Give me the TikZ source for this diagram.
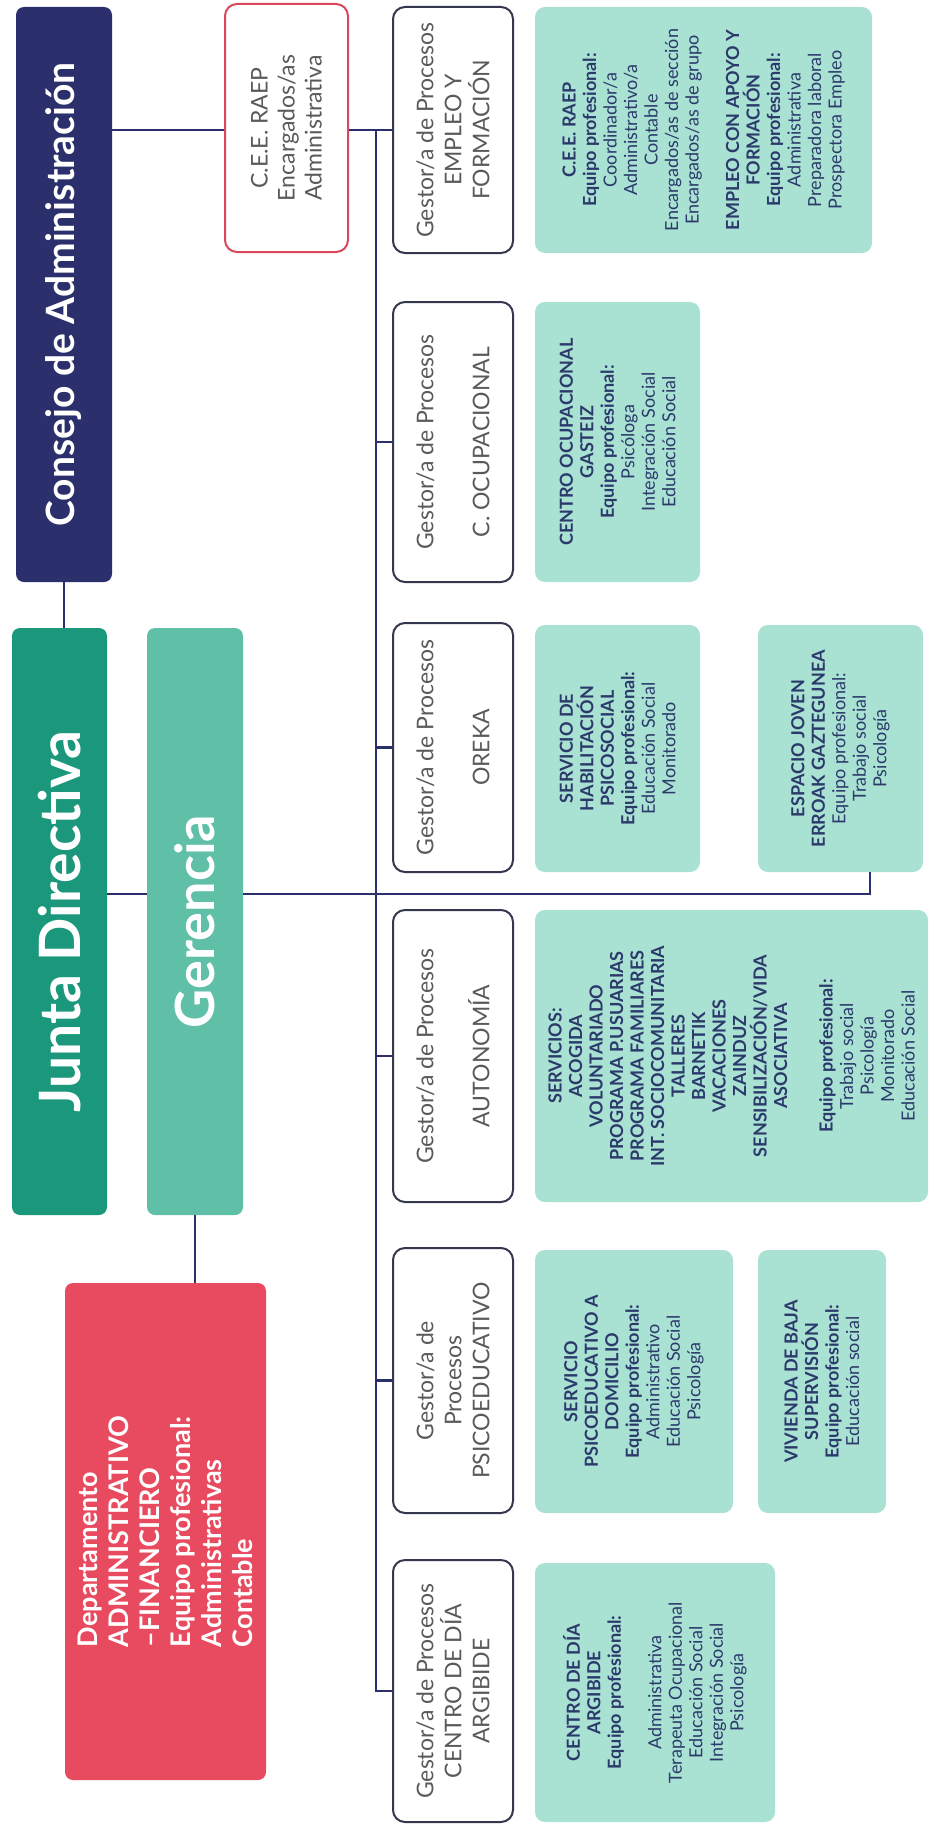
\documentclass[tikz,border=0pt]{standalone}
\usepackage{fontspec}
\setmainfont{Lato}
\definecolor{navy}{HTML}{2B2F6B}
\definecolor{juntac}{HTML}{1B987B}
\definecolor{geren}{HTML}{60BFA7}
\definecolor{redbox}{HTML}{E84A5F}
\definecolor{mint}{HTML}{A9E1D3}
\definecolor{minttext}{HTML}{2B3A6B}
\definecolor{gborder}{HTML}{34374F}
\definecolor{gtext}{HTML}{5A5A5A}
\definecolor{ceeborder}{HTML}{D9475C}
\begin{document}
\begin{tikzpicture}[x=1pt,y=-1pt,
  rbox/.style={rotate=90, inner sep=0pt, align=center},
  head/.style={rbox, rounded corners=8pt, text=white},
  gestor/.style={rbox, draw=gborder, line width=2pt, rounded corners=12pt, fill=white, text=gtext, font=\fontsize{23}{28}\selectfont},
  mintbox/.style={rbox, fill=mint, rounded corners=10pt, text=minttext, font=\fontsize{18}{20.5}\selectfont},
  conn/.style={draw=navy, line width=2.5pt}]
\useasboundingbox (0,0) rectangle (936,1825);
\fill[white] (0,0) rectangle (936,1825);

% top level boxes
\node[head, fill=navy, minimum width=575pt, minimum height=96pt, font=\fontsize{39}{44}\selectfont\bfseries] (consejo) at (64,294.5) {Consejo de Administración};
\node[head, fill=juntac, minimum width=587pt, minimum height=95pt, font=\fontsize{57}{60}\selectfont\bfseries] (junta) at (59.5,921.5) {Junta Directiva};
\node[head, fill=geren, minimum width=587pt, minimum height=96pt, font=\fontsize{54}{58}\selectfont\bfseries] (ger) at (195,921.5) {Gerencia};
\node[rbox, rounded corners=8pt, fill=redbox, text=white, align=left, minimum width=497pt, minimum height=201pt, font=\fontsize{27}{31}\selectfont\bfseries] (red) at (165.5,1531.5) {Departamento\\ADMINISTRATIVO\\–FINANCIERO\\Equipo profesional:\\Administrativas\\Contable};

% C.E.E. box
\node[rbox, draw=ceeborder, line width=2pt, rounded corners=12pt, fill=white, text=gtext, font=\fontsize{23}{27}\selectfont, minimum width=248pt, minimum height=123pt] (cee) at (286.5,128) {C.E.E. RAEP\\Encargados/as\\Administrativa};

% gestor boxes
\node[gestor, minimum width=246pt, minimum height=120pt] (g1) at (453,130) {Gestor/a de Procesos\\EMPLEO Y\\FORMACIÓN};
\node[gestor, minimum width=280pt, minimum height=120pt] (g2) at (453,442) {Gestor/a de Procesos\\[28pt]C. OCUPACIONAL};
\node[gestor, minimum width=249pt, minimum height=120pt] (g3) at (453,747.5) {Gestor/a de Procesos\\[28pt]OREKA};
\node[gestor, minimum width=292pt, minimum height=120pt] (g4) at (453,1056) {Gestor/a de Procesos\\[28pt]AUTONOMÍA};
\node[gestor, minimum width=265pt, minimum height=120pt] (g5) at (453,1380.5) {Gestor/a de\\Procesos\\PSICOEDUCATIVO};
\node[gestor, minimum width=262pt, minimum height=120pt] (g6) at (453,1691) {Gestor/a de Procesos\\CENTRO DE DÍA\\ARGIBIDE};

% mint boxes
\node[mintbox, minimum width=246pt, minimum height=337pt] (m1) at (703.5,130) {\textbf{C.E.E. RAEP}\\\textbf{Equipo profesional:}\\Coordinador/a\\Administrativo/a\\Contable\\Encargados/as de sección\\Encargados/as de grupo\\[20pt]\textbf{EMPLEO CON APOYO Y}\\\textbf{FORMACIÓN}\\\textbf{Equipo profesional:}\\Administrativa\\Preparadora laboral\\Prospectora Empleo};
\node[mintbox, minimum width=280pt, minimum height=165pt] (m2) at (617.5,442) {\textbf{CENTRO OCUPACIONAL}\\\textbf{GASTEIZ}\\\textbf{Equipo profesional:}\\Psicóloga\\Integración Social\\Educación Social};
\node[mintbox, minimum width=247pt, minimum height=165pt] (m3) at (617.5,748.5) {\textbf{SERVICIO DE}\\\textbf{HABILITACIÓN}\\\textbf{PSICOSOCIAL}\\\textbf{Equipo profesional:}\\Educación Social\\Monitorado};
\node[mintbox, minimum width=247pt, minimum height=165pt] (m4) at (840.5,748.5) {\textbf{ESPACIO JOVEN}\\\textbf{ERROAK GAZTEGUNEA}\\Equipo profesional:\\Trabajo social\\Psicología};
\node[mintbox, minimum width=292pt, minimum height=393pt] (m5) at (731.5,1056) {\textbf{SERVICIOS:}\\\textbf{ACOGIDA}\\\textbf{VOLUNTARIADO}\\\textbf{PROGRAMA P.USUARIAS}\\\textbf{PROGRAMA FAMILIARES}\\\textbf{INT. SOCIOCOMUNITARIA}\\\textbf{TALLERES}\\\textbf{BARNETIK}\\\textbf{VACACIONES}\\\textbf{ZAINDUZ}\\\textbf{SENSIBILIZACIÓN/VIDA}\\\textbf{ASOCIATIVA}\\[25pt]\textbf{Equipo profesional:}\\Trabajo social\\Psicología\\Monitorado\\Educación Social};
\node[mintbox, minimum width=263pt, minimum height=198pt] (m6) at (634,1381.5) {\textbf{SERVICIO}\\\textbf{PSICOEDUCATIVO A}\\\textbf{DOMICILIO}\\\textbf{Equipo profesional:}\\Administrativo\\Educación Social\\Psicología};
\node[mintbox, minimum width=263pt, minimum height=128pt] (m7) at (822,1381.5) {\textbf{VIVIENDA DE BAJA}\\\textbf{SUPERVISIÓN}\\\textbf{Equipo profesional:}\\Educación social};
\node[mintbox, minimum width=259pt, minimum height=240pt] (m8) at (655,1692.5) {\textbf{CENTRO DE DÍA}\\\textbf{ARGIBIDE}\\\textbf{Equipo profesional:}\\[20pt]Administrativa\\Terapeuta Ocupacional\\Educación Social\\Integración Social\\Psicología};

% connectors
\coordinate (tx) at (376,0);
\coordinate (gy) at (0,894);
\coordinate (ej) at (870,894);
\draw[conn] (consejo.south |- g1.center) -- (cee.north |- g1.center);
\draw[conn] (cee.south |- g1.center) -- (g1.north);
\draw[conn] (tx |- g1.center) -- (tx |- g6.center) -- (g6.north);
\foreach \n in {g2,g3,g4,g5} \draw[conn] (tx |- \n.center) -- (\n.north);
\draw[conn] (consejo.west) -- (consejo.west |- junta.east);
\draw[conn] (junta.south |- gy) -- (ger.north |- gy);
\draw[conn] (ger.south |- gy) -- (ej) -- (ej |- m4.west);
\draw[conn] (ger.west) -- (ger.west |- red.east);
\end{tikzpicture}
\end{document}
